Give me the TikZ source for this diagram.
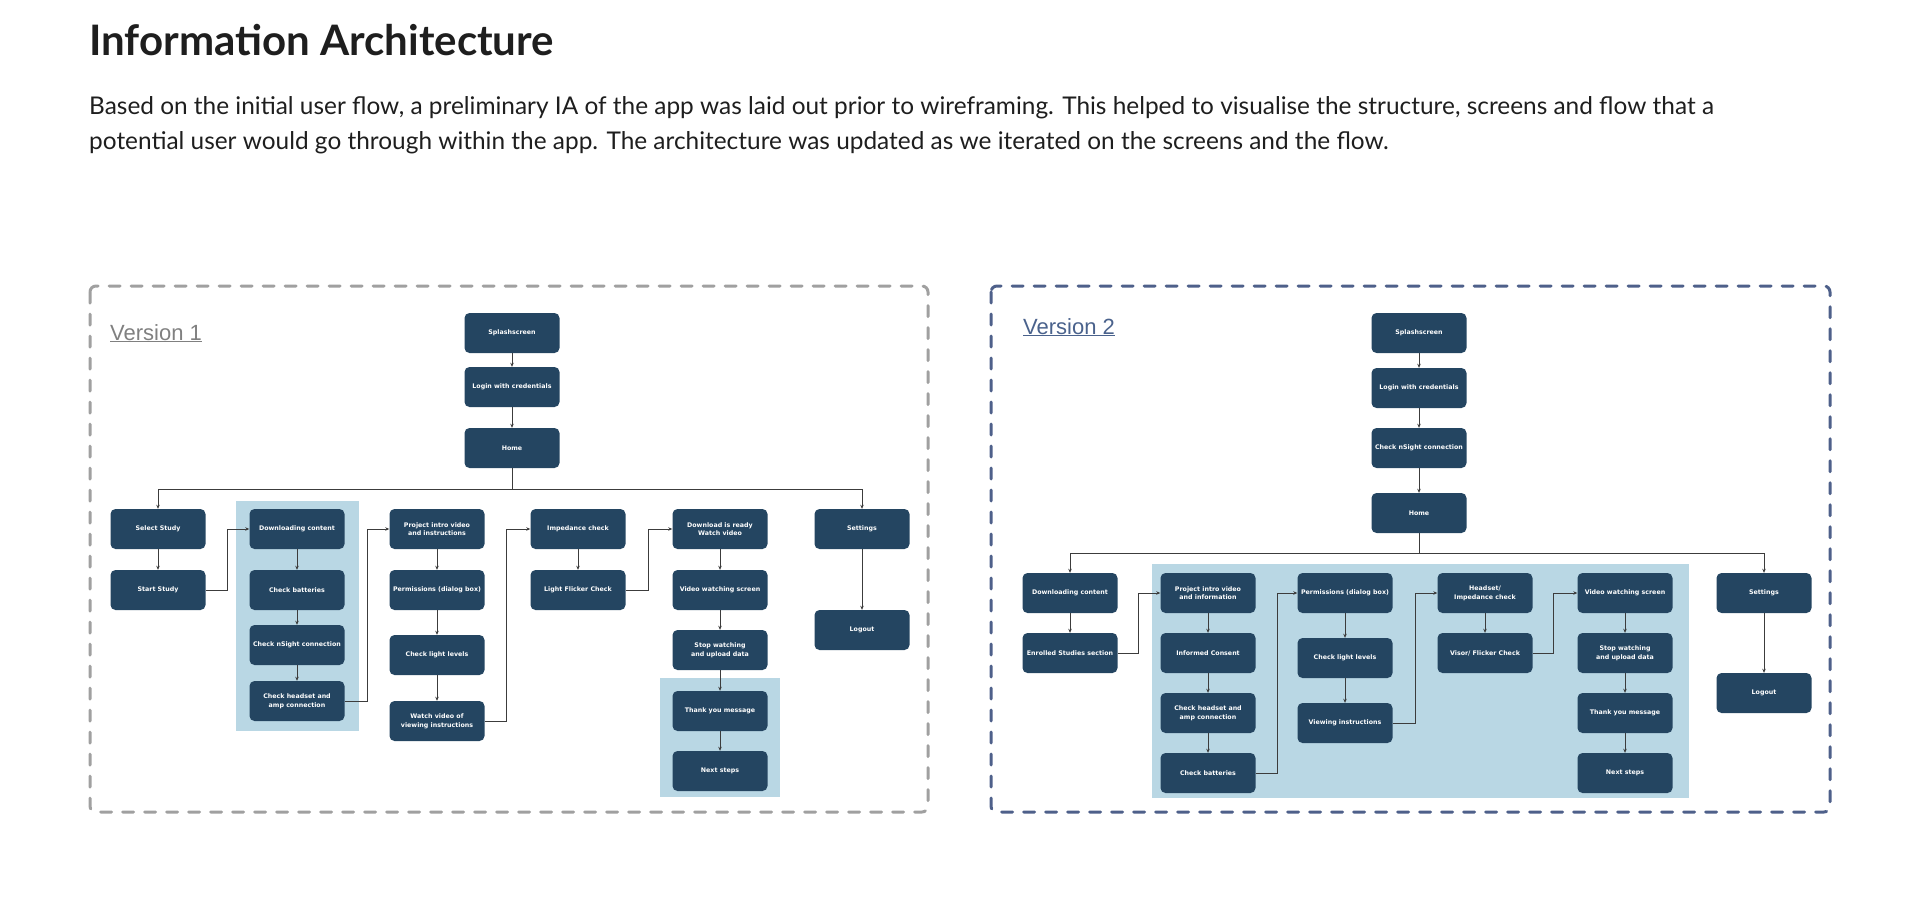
\documentclass[tikz,border=0pt]{standalone}
\usepackage{fontspec}
\setmainfont{Lato}
\newfontfamily\boxfont{DejaVu Sans}
\newfontfamily\labelfont{Liberation Sans}
\usetikzlibrary{arrows.meta}
\usetikzlibrary{positioning}

\definecolor{navy}{RGB}{36,69,97}
\definecolor{zonebg}{RGB}{185,215,228}
\definecolor{frgray}{RGB}{160,160,160}
\definecolor{frblue}{RGB}{78,96,138}
\definecolor{lblgray}{RGB}{128,128,128}
\definecolor{lblblue}{RGB}{74,98,140}
\definecolor{wire}{RGB}{60,60,60}
\definecolor{ink}{RGB}{30,30,30}

\tikzset{
	box/.style={fill=navy, rounded corners=5pt, minimum width=95pt, minimum height=40pt,
		inner sep=1pt, align=center, text=white, font=\boxfont\bfseries\fontsize{6.3}{8.7}\selectfont},
	flow/.style={draw=wire, line width=1pt, -{Stealth[length=4pt,width=3.5pt]}},
	wire/.style={draw=wire, line width=1pt},
	zone/.style={fill=zonebg},
	frameA/.style={draw=frgray, line width=3pt, line cap=round, rounded corners=6pt, dash pattern=on 11pt off 11pt},
	frameB/.style={draw=frblue, line width=3pt, line cap=round, rounded corners=6pt, dash pattern=on 11pt off 11pt}
}

\begin{document}
\begin{tikzpicture}
		[x=1pt, y=-1pt]
		\useasboundingbox (0,0) rectangle (1920,902);

		% heading and intro text
		\node[anchor=base west, inner sep=0, text=ink, font=\bfseries\fontsize{42}{48}\selectfont] (title) at (89,55) {Information Architecture};
		\node[anchor=base west, inner sep=0, text=ink, font=\fontsize{24.4}{35}\selectfont] (intro) at (89,114)
		{Based on the initial user flow, a preliminary IA of the app was laid out prior to wireframing. This helped to visualise the structure, screens and flow that a};
		\node[anchor=base west, inner sep=0, text=ink, font=\fontsize{24.4}{35}\selectfont] (intro2) at (89,149)
		{potential user would go through within the app. The architecture was updated as we iterated on the screens and the flow.};

		% version 1
		\draw[frameA] (90,286) rectangle (928,812);
		\node[anchor=base west, inner sep=0, text=lblgray, font=\labelfont\fontsize{22}{26}\selectfont] (v1) at (110,340) {\underline{Version 1}};
		\fill[zone] (236,501) rectangle (359,731);
		\fill[zone] (660,678) rectangle (780,797);

		\node[box] (a1) at (512,333) {Splashscreen};
		\node[box] (b1) at (512,387) {Login with credentials};
		\node[box] (c1) at (512,448) {Home};
		\coordinate (hub1) at (512,489);

		\node[box] (sel) at (158,529) {Select Study};
		\node[box] (start) at (158,590) {Start Study};
		\node[box] (d1) at (297,529) {Downloading content};
		\node[box] (e1) at (297,590) {Check batteries};
		\node[box] (f1) at (297,645) {Check nSight connection};
		\node[box] (g1) at (297,701) {Check headset and\\amp connection};
		\node[box] (p1) at (437,529) {Project intro video\\and instructions};
		\node[box] (q1) at (437,590) {Permissions (dialog box)};
		\node[box] (r1) at (437,655) {Check light levels};
		\node[box] (w1) at (437,721) {Watch video of\\viewing instructions};
		\node[box] (i1) at (578,529) {Impedance check};
		\node[box] (l1) at (578,590) {Light Flicker Check};
		\node[box] (dr1) at (720,529) {Download is ready\\Watch video};
		\node[box] (v1w) at (720,590) {Video watching screen};
		\node[box] (s1) at (720,650) {Stop watching\\and upload data};
		\node[box] (t1) at (720,711) {Thank you message};
		\node[box] (n1) at (720,771) {Next steps};
		\node[box] (set1) at (862,529) {Settings};
		\node[box] (out1) at (862,630) {Logout};

		\draw[flow] (a1) -- (b1);
		\draw[flow] (b1) -- (c1);
		\draw[wire] (c1) -- (hub1);
		\draw[flow] (hub1) -| (sel);
		\draw[flow] (hub1) -| (set1);
		\draw[flow] (sel) -- (start);
		\draw[flow] (start.east) -- ++(22,0) |- (d1.west);
		\draw[flow] (d1) -- (e1);
		\draw[flow] (e1) -- (f1);
		\draw[flow] (f1) -- (g1);
		\draw[flow] (g1.east) -- ++(23,0) |- (p1.west);
		\draw[flow] (p1) -- (q1);
		\draw[flow] (q1) -- (r1);
		\draw[flow] (r1) -- (w1);
		\draw[flow] (w1.east) -- ++(22,0) |- (i1.west);
		\draw[flow] (i1) -- (l1);
		\draw[flow] (l1.east) -- ++(23,0) |- (dr1.west);
		\draw[flow] (dr1) -- (v1w);
		\draw[flow] (v1w) -- (s1);
		\draw[flow] (s1) -- (t1);
		\draw[flow] (t1) -- (n1);
		\draw[flow] (set1) -- (out1);

		% version 2
		\draw[frameB] (991,286) rectangle (1830,812);
		\node[anchor=base west, inner sep=0, text=lblblue, font=\labelfont\fontsize{22}{26}\selectfont] (v2) at (1023,334) {\underline{Version 2}};
		\fill[zone] (1152,564) rectangle (1689,798);

		\node[box] (a2) at (1419,333) {Splashscreen};
		\node[box] (b2) at (1419,388) {Login with credentials};
		\node[box] (k2) at (1419,448) {Check nSight connection};
		\node[box] (c2) at (1419,513) {Home};
		\coordinate (hub2) at (1419,553);

		\node[box] (d2) at (1070,593) {Downloading content};
		\node[box] (en) at (1070,653) {Enrolled Studies section};
		\node[box] (p2) at (1208,593) {Project intro video\\and information};
		\node[box] (ic) at (1208,653) {Informed Consent};
		\node[box] (g2) at (1208,713) {Check headset and\\amp connection};
		\node[box] (e2) at (1208,773) {Check batteries};
		\node[box] (q2) at (1345,593) {Permissions (dialog box)};
		\node[box] (r2) at (1345,658) {Check light levels};
		\node[box] (vi) at (1345,723) {Viewing instructions};
		\node[box] (i2) at (1485,593) {Headset/\\Impedance check};
		\node[box] (vf) at (1485,653) {Visor/ Flicker Check};
		\node[box] (v2w) at (1625,593) {Video watching screen};
		\node[box] (s2) at (1625,653) {Stop watching\\and upload data};
		\node[box] (t2) at (1625,713) {Thank you message};
		\node[box] (n2) at (1625,773) {Next steps};
		\node[box] (set2) at (1764,593) {Settings};
		\node[box] (out2) at (1764,693) {Logout};

		\draw[flow] (a2) -- (b2);
		\draw[flow] (b2) -- (k2);
		\draw[flow] (k2) -- (c2);
		\draw[wire] (c2) -- (hub2);
		\draw[flow] (hub2) -| (d2);
		\draw[flow] (hub2) -| (set2);
		\draw[flow] (d2) -- (en);
		\draw[flow] (en.east) -- ++(21,0) |- (p2.west);
		\draw[flow] (p2) -- (ic);
		\draw[flow] (ic) -- (g2);
		\draw[flow] (g2) -- (e2);
		\draw[flow] (e2.east) -- ++(22,0) |- (q2.west);
		\draw[flow] (q2) -- (r2);
		\draw[flow] (r2) -- (vi);
		\draw[flow] (vi.east) -- ++(23,0) |- (i2.west);
		\draw[flow] (i2) -- (vf);
		\draw[flow] (vf.east) -- ++(21,0) |- (v2w.west);
		\draw[flow] (v2w) -- (s2);
		\draw[flow] (s2) -- (t2);
		\draw[flow] (t2) -- (n2);
		\draw[flow] (set2) -- (out2);
	\end{tikzpicture}
\end{document}
